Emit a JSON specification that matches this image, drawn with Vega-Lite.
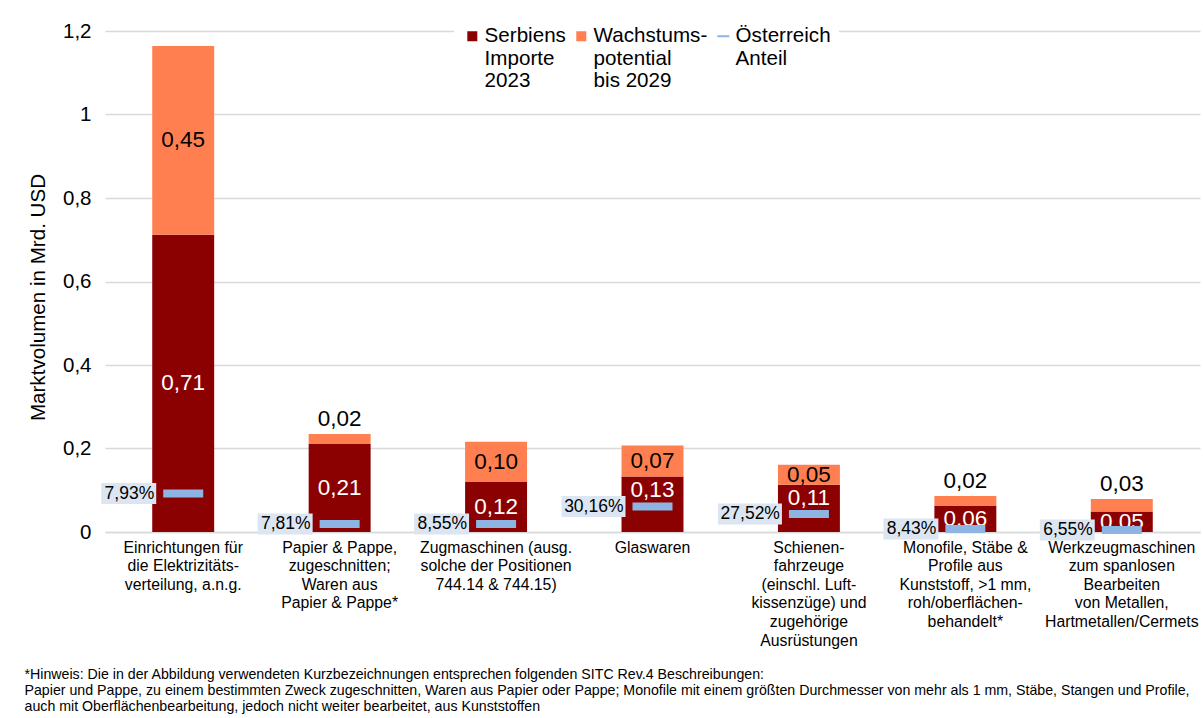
{
  "$schema": "https://vega.github.io/schema/vega-lite/v6.json",
  "width": 1095,
  "height": 501,
  "autosize": {"type": "none"},
  "padding": {"left": 105, "top": 31, "right": 3, "bottom": 186},
  "background": "white",
  "config": {
    "font": "Liberation Sans",
    "view": {"stroke": null},
    "locale": {"number": {"decimal": ",", "thousands": ".", "grouping": [3], "currency": ["", " €"]}},
    "axis": {"labelFont": "Liberation Sans", "titleFont": "Liberation Sans", "labelColor": "#000", "titleColor": "#000", "titleFontWeight": "normal"}
  },
  "title": {
    "text": [
      "*Hinweis: Die in der Abbildung verwendeten Kurzbezeichnungen entsprechen folgenden SITC Rev.4 Beschreibungen:",
      "Papier und Pappe, zu einem bestimmten Zweck zugeschnitten, Waren aus Papier oder Pappe; Monofile mit einem größten Durchmesser von mehr als 1 mm, Stäbe, Stangen und Profile,",
      "auch mit Oberflächenbearbeitung, jedoch nicht weiter bearbeitet, aus Kunststoffen"
    ],
    "orient": "bottom",
    "anchor": "start",
    "frame": "bounds",
    "font": "Liberation Sans",
    "fontSize": 14.2,
    "fontWeight": "normal",
    "color": "#000",
    "lineHeight": 16,
    "offset": 20,
    "dx": -4
  },
  "datasets": {
    "bars": [
      {"category": "Einrichtungen für\ndie Elektrizitäts-\nverteilung, a.n.g.", "series": "Serbiens Importe 2023", "value": 0.712},
      {"category": "Einrichtungen für\ndie Elektrizitäts-\nverteilung, a.n.g.", "series": "Wachstumspotential bis 2029", "value": 0.452},
      {"category": "Papier & Pappe,\nzugeschnitten;\nWaren aus\nPapier & Pappe*", "series": "Serbiens Importe 2023", "value": 0.211},
      {"category": "Papier & Pappe,\nzugeschnitten;\nWaren aus\nPapier & Pappe*", "series": "Wachstumspotential bis 2029", "value": 0.024},
      {"category": "Zugmaschinen (ausg.\nsolche der Positionen\n744.14 & 744.15)", "series": "Serbiens Importe 2023", "value": 0.12},
      {"category": "Zugmaschinen (ausg.\nsolche der Positionen\n744.14 & 744.15)", "series": "Wachstumspotential bis 2029", "value": 0.096},
      {"category": "Glaswaren", "series": "Serbiens Importe 2023", "value": 0.133},
      {"category": "Glaswaren", "series": "Wachstumspotential bis 2029", "value": 0.074},
      {"category": "Schienen-\nfahrzeuge\n(einschl. Luft-\nkissenzüge) und\nzugehörige\nAusrüstungen", "series": "Serbiens Importe 2023", "value": 0.113},
      {"category": "Schienen-\nfahrzeuge\n(einschl. Luft-\nkissenzüge) und\nzugehörige\nAusrüstungen", "series": "Wachstumspotential bis 2029", "value": 0.048},
      {"category": "Monofile, Stäbe &\nProfile aus\nKunststoff, >1 mm,\nroh/oberflächen-\nbehandelt*", "series": "Serbiens Importe 2023", "value": 0.062},
      {"category": "Monofile, Stäbe &\nProfile aus\nKunststoff, >1 mm,\nroh/oberflächen-\nbehandelt*", "series": "Wachstumspotential bis 2029", "value": 0.024},
      {"category": "Werkzeugmaschinen\nzum spanlosen\nBearbeiten\nvon Metallen,\nHartmetallen/Cermets", "series": "Serbiens Importe 2023", "value": 0.049},
      {"category": "Werkzeugmaschinen\nzum spanlosen\nBearbeiten\nvon Metallen,\nHartmetallen/Cermets", "series": "Wachstumspotential bis 2029", "value": 0.03}
    ],
    "austria": [
      {"category": "Einrichtungen für\ndie Elektrizitäts-\nverteilung, a.n.g.", "share": 0.0793, "marker": 0.092},
      {"category": "Papier & Pappe,\nzugeschnitten;\nWaren aus\nPapier & Pappe*", "share": 0.0781, "marker": 0.019},
      {"category": "Zugmaschinen (ausg.\nsolche der Positionen\n744.14 & 744.15)", "share": 0.0855, "marker": 0.019},
      {"category": "Glaswaren", "share": 0.3016, "marker": 0.061},
      {"category": "Schienen-\nfahrzeuge\n(einschl. Luft-\nkissenzüge) und\nzugehörige\nAusrüstungen", "share": 0.2752, "marker": 0.043},
      {"category": "Monofile, Stäbe &\nProfile aus\nKunststoff, >1 mm,\nroh/oberflächen-\nbehandelt*", "share": 0.0843, "marker": 0.007},
      {"category": "Werkzeugmaschinen\nzum spanlosen\nBearbeiten\nvon Metallen,\nHartmetallen/Cermets", "share": 0.0655, "marker": 0.005}
    ]
  },
  "encoding": {
    "x": {
      "field": "category",
      "type": "nominal",
      "scale": {
        "domain": [
          "Einrichtungen für\ndie Elektrizitäts-\nverteilung, a.n.g.",
          "Papier & Pappe,\nzugeschnitten;\nWaren aus\nPapier & Pappe*",
          "Zugmaschinen (ausg.\nsolche der Positionen\n744.14 & 744.15)",
          "Glaswaren",
          "Schienen-\nfahrzeuge\n(einschl. Luft-\nkissenzüge) und\nzugehörige\nAusrüstungen",
          "Monofile, Stäbe &\nProfile aus\nKunststoff, >1 mm,\nroh/oberflächen-\nbehandelt*",
          "Werkzeugmaschinen\nzum spanlosen\nBearbeiten\nvon Metallen,\nHartmetallen/Cermets"
        ],
        "paddingInner": 0.604,
        "paddingOuter": 0.302
      },
      "axis": {
        "title": null,
        "labelAngle": 0,
        "labelAlign": "center",
        "labelBaseline": "top",
        "labelFontSize": 15.8,
        "labelLineHeight": 18.6,
        "labelPadding": 8,
        "labelLimit": 300,
        "labelOverlap": false,
        "ticks": false,
        "domainColor": "#d9d9d9",
        "domainWidth": 1.3,
        "labelExpr": "split(datum.label, '\\n')"
      }
    }
  },
  "layer": [
    {
      "data": {"name": "bars"},
      "mark": {"type": "bar"},
      "encoding": {
        "y": {
          "field": "value",
          "type": "quantitative",
          "stack": "zero",
          "scale": {"domain": [0, 1.2], "nice": false},
          "axis": {
            "title": "Marktvolumen in Mrd. USD",
            "titleFontSize": 20.6,
            "titlePadding": 14,
            "titleY": 266,
            "labelFontSize": 20.5,
            "labelPadding": 14,
            "ticks": false,
            "domain": false,
            "grid": true,
            "gridColor": "#d9d9d9",
            "gridWidth": 1.3,
            "values": [0, 0.2, 0.4, 0.6, 0.8, 1, 1.2],
            "format": ".1~f"
          }
        },
        "color": {
          "field": "series",
          "type": "nominal",
          "scale": {
            "domain": ["Serbiens Importe 2023", "Wachstumspotential bis 2029", "Österreich Anteil"],
            "range": ["#8B0000", "#FF7F50", "#8DB4E2"]
          },
          "legend": {
            "title": null,
            "orient": "none",
            "legendX": 349,
            "legendY": -13.5,
            "direction": "horizontal",
            "columns": 3,
            "columnPadding": 5,
            "fillColor": "white",
            "padding": 8,
            "labelFont": "Liberation Sans",
            "labelFontSize": 20.6,
            "labelLineHeight": 23.5,
            "labelBaseline": "alphabetic",
            "labelColor": "#000",
            "labelOffset": 2,
            "labelLimit": 300,
            "symbolSize": 100,
            "symbolType": "square",
            "symbolStrokeWidth": 0,
            "labelExpr": "datum.label == 'Serbiens Importe 2023' ? ['Serbiens','Importe','2023'] : datum.label == 'Wachstumspotential bis 2029' ? ['Wachstums-','potential','bis 2029'] : ['Österreich','Anteil',' ']",
            "encode": {
              "symbols": {"update": {"shape": {"signal": "datum.value == 'Österreich Anteil' ? 'M-1.2,-0.2H1.2V0.2H-1.2Z' : 'square'"}, "strokeWidth": {"value": 0}}},
              "labels": {"update": {"dy": {"value": 6}}}
            }
          }
        },
        "order": {"field": "series", "sort": "ascending"}
      }
    },
    {
      "data": {"name": "bars"},
      "mark": {"type": "text", "fontSize": 22.5, "baseline": "middle", "align": "center"},
      "encoding": {
        "y": {"field": "value", "type": "quantitative", "stack": "zero", "bandPosition": 0.5},
        "detail": {"field": "series"},
        "order": {"field": "series", "sort": "ascending"},
        "text": {"field": "value", "type": "quantitative", "format": ".2f"},
        "color": {"condition": {"test": "datum.series == 'Serbiens Importe 2023'", "value": "white"}, "value": "black"},
        "opacity": {"condition": {"test": "(datum.series == 'Wachstumspotential bis 2029' && datum.value < 0.04) || (datum.series == 'Serbiens Importe 2023' && (datum.category == 'Glaswaren' || indexof(datum.category, 'Schienen') >= 0))", "value": 0}, "value": 1}
      }
    },
    {
      "data": {"name": "bars"},
      "transform": [
        {"filter": "datum.category == 'Glaswaren' || indexof(datum.category, 'Schienen') >= 0"},
        {"filter": "datum.series == 'Serbiens Importe 2023'"}
      ],
      "mark": {"type": "text", "fontSize": 22.5, "baseline": "middle", "align": "center", "color": "white", "dy": 13.5},
      "encoding": {
        "y": {"field": "value", "type": "quantitative"},
        "text": {"field": "value", "type": "quantitative", "format": ".2f"}
      }
    },
    {
      "data": {"name": "bars"},
      "transform": [
        {"stack": "value", "groupby": ["category"], "sort": [{"field": "series", "order": "ascending"}], "as": ["v0", "v1"]},
        {"filter": "datum.series == 'Wachstumspotential bis 2029' && datum.value < 0.04"}
      ],
      "mark": {"type": "text", "fontSize": 22.5, "baseline": "bottom", "align": "center", "dy": -3, "color": "black"},
      "encoding": {
        "y": {"field": "v1", "type": "quantitative"},
        "text": {"field": "value", "type": "quantitative", "format": ".2f"}
      }
    },
    {
      "data": {"name": "austria"},
      "mark": {"type": "tick", "thickness": 8, "size": 40, "opacity": 1},
      "encoding": {
        "y": {"field": "marker", "type": "quantitative"},
        "color": {"datum": "Österreich Anteil"}
      }
    },
    {
      "data": {"name": "austria"},
      "transform": [{"filter": "datum.share < 0.1"}],
      "mark": {"type": "tick", "thickness": 21, "size": 55, "xOffset": -54.5, "color": "#DCE6F2", "opacity": 1},
      "encoding": {
        "y": {"field": "marker", "type": "quantitative"}
      }
    },
    {
      "data": {"name": "austria"},
      "transform": [{"filter": "datum.share >= 0.1"}],
      "mark": {"type": "tick", "thickness": 21, "size": 64, "xOffset": -59, "color": "#DCE6F2", "opacity": 1},
      "encoding": {
        "y": {"field": "marker", "type": "quantitative"}
      }
    },
    {
      "data": {"name": "austria"},
      "mark": {"type": "text", "fontSize": 17.5, "align": "right", "baseline": "middle", "dx": -29, "color": "black"},
      "encoding": {
        "y": {"field": "marker", "type": "quantitative"},
        "text": {"field": "share", "type": "quantitative", "format": ".2%"}
      }
    }
  ]
}
